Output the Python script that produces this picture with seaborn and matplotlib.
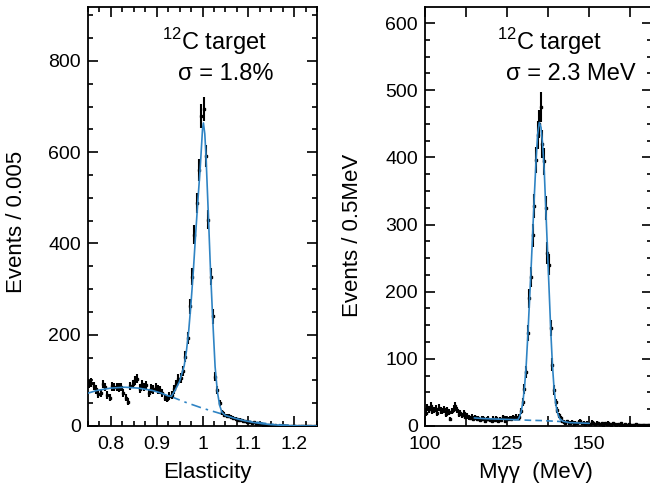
import numpy as np
import pandas as pd
import matplotlib
matplotlib.use("Agg")
import matplotlib.pyplot as plt
import seaborn as sns
from matplotlib.ticker import MultipleLocator

# ---- left panel: elasticity histogram (bin width 0.005, 0.75 - 1.25)
elast_counts = [
	92, 95, 88, 80, 70, 72, 92, 85, 68, 62,
	87, 85, 86, 84, 86, 72, 62, 53, 88, 92,
	100, 104, 82, 92, 86, 90, 73, 82, 80, 85,
	80, 78, 72, 62, 60, 66,
	68, 80, 92, 103, 105, 120, 152, 193, 262, 327,
	419, 488, 561, 680, 695, 591, 452, 327, 240, 108,
	79, 50, 30, 25,
	22, 22, 20, 18, 16, 14, 13, 11, 10, 9,
	8, 7, 8, 5, 4, 4, 3, 3, 2, 2,
	1, 2, 1, 1, 0, 1, 0, 0, 1, 0,
	0, 0, 0, 1, 0, 0, 0, 0, 0, 0,
]
elast_fit_x = [0.75, 0.77, 0.80, 0.83, 0.86, 0.89, 0.91, 0.925, 0.932, 0.94,
	0.95, 0.96, 0.965, 0.97, 0.975, 0.98, 0.985, 0.99, 0.995, 1.0,
	1.002, 1.005, 1.0075, 1.0125, 1.0175, 1.0225, 1.0275, 1.0325, 1.0375, 1.0425,
	1.05, 1.07, 1.09, 1.11, 1.13, 1.15, 1.18, 1.21, 1.25]
elast_fit_y = [72, 78, 83, 85, 83, 78, 72, 66, 65, 78,
	98, 132, 165, 210, 270, 340, 420, 495, 565, 650,
	664, 640, 595, 470, 340, 230, 130, 75, 45, 30,
	23, 17, 12, 8, 5, 3, 1, 0.3, 0]
elast_bkg_x = [0.93, 0.96, 1.0, 1.04, 1.07, 1.1, 1.15, 1.2, 1.25]
elast_bkg_y = [65, 53, 39, 27, 18, 11, 4, 1, 0]

# ---- right panel: two-photon invariant mass (bin width 0.5 MeV from 100 MeV)
mgg_counts = [
	20, 28, 25, 30, 22, 24, 26, 20, 27, 23,
	22, 25, 18, 24, 21, 10, 22, 26, 30, 24,
	18, 20, 16, 19, 14, 15, 13, 12, 14, 11,
	13, 10, 12, 9, 11, 12, 8, 10, 11, 9,
	7, 11, 9, 12, 8, 10, 9, 13, 8, 11,
	10, 12, 11, 13, 12, 14,
	12, 14, 22, 36, 55, 80, 138, 190, 222, 284,
	328, 396, 434, 450, 475, 420, 394, 325, 258, 240,
	146, 91, 54, 35, 24, 16, 12, 7,
	6, 5, 7, 4, 5, 6, 3, 5, 4, 6,
	8, 4, 5, 3, 5, 4, 3, 6, 4, 3,
	5, 4, 3, 4, 2, 4, 3, 5, 3, 2,
	4, 3, 2, 3, 2, 4, 2, 3, 2, 1,
	3, 2, 2, 1, 3, 2, 1, 2, 2, 1,
	2, 1, 2,
]
mgg_fit_x = [115, 118, 121, 124, 127, 128.3, 128.8, 129.3, 129.8, 130.3,
	130.8, 131.3, 131.8, 132.3, 132.8, 133.3, 133.8, 134.3, 134.8, 135.3,
	135.8, 136.3, 136.8, 137.3, 137.8, 138.3, 138.8, 139.3, 139.8, 140.3,
	141, 142, 144, 147, 150]
mgg_fit_y = [12, 11, 10.5, 10, 9.5, 9.5, 14, 22, 36, 58,
	90, 135, 185, 235, 290, 345, 395, 435, 452, 445,
	420, 380, 320, 260, 200, 140, 90, 55, 33, 20,
	11, 7, 5, 4.5, 4]
mgg_bkg_x = [127, 132, 136, 140, 144]
mgg_bkg_y = [9.5, 8.5, 8, 7, 6]

FIT_COLOR = '#2f84c4'

sns.set_style("ticks")
plt.rcParams['font.family'] = ['Liberation Sans', 'DejaVu Sans']
plt.rcParams['mathtext.fontset'] = 'custom'
plt.rcParams['mathtext.rm'] = 'Liberation Sans'
plt.rcParams['axes.linewidth'] = 1.3
plt.rcParams['text.color'] = 'black'
plt.rcParams['axes.labelcolor'] = 'black'
plt.rcParams['xtick.color'] = 'black'
plt.rcParams['ytick.color'] = 'black'
plt.rcParams['axes.edgecolor'] = 'black'

fig = plt.figure(figsize=(6.5, 4.87), dpi=100)
ax1 = fig.add_axes([88/650, 61/487, 229/650, 419/487])
ax2 = fig.add_axes([425/650, 61/487, 227/650, 419/487])


def draw_hist(ax, start, width, counts):
	centers = start + width * (np.arange(len(counts)) + 0.5)
	counts = np.asarray(counts, dtype=float)
	ax.errorbar(
		centers, counts, yerr=np.sqrt(counts),
		fmt='s', ms=1.8, color='black',
		elinewidth=1.5, capsize=0, zorder=3
	)


def style_axis(ax):
	ax.tick_params(which='both', direction='in', top=True, right=True,
		labelsize=14, width=1.2, color='black', labelcolor='black')
	ax.tick_params(which='major', length=7, pad=5)
	ax.tick_params(axis='x', which='major', pad=7)
	ax.tick_params(which='minor', length=3.5)


# left panel
draw_hist(ax1, 0.75, 0.005, elast_counts)
sns.lineplot(x=elast_fit_x, y=elast_fit_y, ax=ax1, color=FIT_COLOR, lw=1.2,
	sort=False, zorder=4)
sns.lineplot(x=elast_bkg_x, y=elast_bkg_y, ax=ax1, color=FIT_COLOR, lw=1.2,
	sort=False, zorder=2, linestyle=(0, (6, 3, 1.5, 3)))
ax1.set_xlim(0.75, 1.25)
ax1.set_ylim(0, 918)
ax1.xaxis.set_major_locator(MultipleLocator(0.1))
ax1.xaxis.set_minor_locator(MultipleLocator(0.025))
ax1.yaxis.set_major_locator(MultipleLocator(200))
ax1.yaxis.set_minor_locator(MultipleLocator(50))
ax1.set_xticks([0.8, 0.9, 1.0, 1.1, 1.2], ['0.8', '0.9', '1', '1.1', '1.2'])
style_axis(ax1)
ax1.set_xlabel("Elasticity", fontsize=16)
ax1.set_ylabel("Events / 0.005", fontsize=16)
ax1.xaxis.set_label_coords(0.52, -0.085)
ax1.yaxis.set_label_coords(-0.265, 0.487)

# right panel
draw_hist(ax2, 100, 0.5, mgg_counts)
sns.lineplot(x=mgg_fit_x, y=mgg_fit_y, ax=ax2, color=FIT_COLOR, lw=1.2,
	sort=False, zorder=4)
sns.lineplot(x=mgg_bkg_x, y=mgg_bkg_y, ax=ax2, color=FIT_COLOR, lw=1.2,
	sort=False, zorder=2, linestyle=(0, (4, 2.5)))
ax2.set_xlim(100, 169.1)
ax2.set_ylim(0, 624)
ax2.xaxis.set_major_locator(MultipleLocator(25))
ax2.xaxis.set_minor_locator(MultipleLocator(12.5))
ax2.yaxis.set_major_locator(MultipleLocator(100))
ax2.yaxis.set_minor_locator(MultipleLocator(25))
style_axis(ax2)
ax2.tick_params(axis='x', which='minor', length=7)
ax2.set_xlabel("M\u03b3\u03b3  (MeV)", fontsize=16)
ax2.set_ylabel("Events / 0.5MeV", fontsize=16)
ax2.xaxis.set_label_coords(0.487, -0.085)
ax2.yaxis.set_label_coords(-0.273, 0.456)

# annotations
fig.text(162/650, 1 - 50/487, r"$^{12}$C target", fontsize=17, va='baseline')
fig.text(178/650, 1 - 80/487, "\u03c3 = 1.8%", fontsize=17, va='baseline')
fig.text(497/650, 1 - 50/487, r"$^{12}$C target", fontsize=17, va='baseline')
fig.text(506/650, 1 - 80/487, "\u03c3 = 2.3 MeV", fontsize=17, va='baseline')

fig.savefig("out.png", dpi=100)
